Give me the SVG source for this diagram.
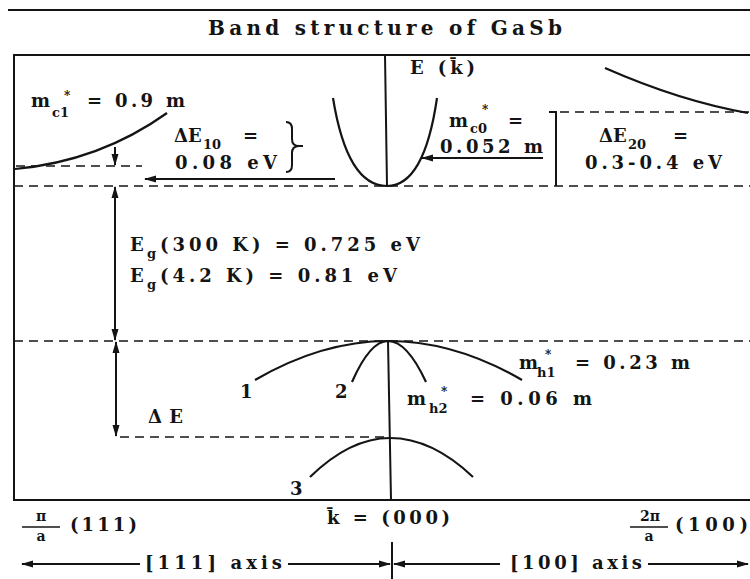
<svg xmlns="http://www.w3.org/2000/svg" width="750" height="579" viewBox="0 0 750 579">
<style>
.t{font-family:"DejaVu Serif","Liberation Serif",serif;font-weight:bold;font-size:18px;fill:#141414}
.title{font-size:20px}
.fr{font-size:14px}
.s{font-size:13px}
.ast{font-size:12px}
.ln{stroke:#141414;stroke-width:2;fill:none}
.cv{stroke:#141414;stroke-width:2.2;fill:none}
.ds{stroke:#141414;stroke-width:1.6;fill:none;stroke-dasharray:9 6}
.ar{stroke:#141414;stroke-width:2;fill:none}
</style>
<defs>
<marker id="ah" markerUnits="userSpaceOnUse" markerWidth="12" markerHeight="8" refX="11" refY="4" orient="auto-start-reverse"><path d="M0,0.5 L12,4 L0,7.5 z" fill="#141414"/></marker>
</defs>
<rect width="750" height="579" fill="#fff"/>

<g id="title">
<line x1="8" y1="10" x2="750" y2="10" class="ln" stroke-width="1.5"/>
<text class="t title" x="208" y="35" textLength="354" lengthAdjust="spacing">Band structure of GaSb</text>
</g>

<g id="frame">
<path d="M750,55 H14 V500 H750" class="ln"/>
<line x1="385" y1="55" x2="387" y2="186" class="ln"/>
<line x1="388" y1="341" x2="391" y2="500" class="ln"/>
</g>

<g id="levels">
<line x1="14" y1="186" x2="750" y2="186" class="ds"/>
<line x1="14" y1="341" x2="750" y2="341" class="ds"/>
<line x1="16" y1="166" x2="142" y2="166" class="ds"/>
<line x1="560" y1="112" x2="750" y2="112" class="ds"/>
<line x1="120" y1="437" x2="388" y2="437" class="ds"/>
<path d="M549,112 H556 V186" class="ln"/>
<path d="M286,122 Q292,122 292,129 V139 Q292,146 299,146 Q292,146 292,153 V165 Q292,172 286,172 M299,146 H303" class="ln"/>
</g>

<g id="bands">
<path id="band-L" d="M15,169 Q100,161 167,113" class="cv"/>
<path id="band-X" d="M605,68 Q680,101 748,113" class="cv"/>
<path id="band-gamma" d="M333,98 C343,160 362,186 387,186 C410,186 428,160 437,98" class="cv"/>
<path id="band-1" d="M255,380 Q322,341 388,341 Q455,341 522,380" class="cv"/>
<path id="band-2" d="M352,382 Q370,341 388,341 Q407,341 426,382" class="cv"/>
<path id="band-3" d="M310,477 Q350,438 390,438 Q432,438 473,477" class="cv"/>
</g>

<g id="connectors">
<line x1="115" y1="147" x2="115" y2="165" class="ar" marker-end="url(#ah)"/>
<line x1="335" y1="179" x2="145" y2="179" class="ar" marker-end="url(#ah)"/>
<line x1="543" y1="158" x2="422" y2="158" class="ar" marker-end="url(#ah)"/>
<line x1="115" y1="187" x2="115" y2="340" class="ar" marker-start="url(#ah)" marker-end="url(#ah)"/>
<line x1="116" y1="342" x2="116" y2="436" class="ar" marker-start="url(#ah)" marker-end="url(#ah)"/>
<line x1="22" y1="564" x2="140" y2="564" class="ar" marker-start="url(#ah)"/>
<line x1="288" y1="564" x2="390" y2="564" class="ar" marker-end="url(#ah)"/>
<line x1="394" y1="564" x2="500" y2="564" class="ar" marker-start="url(#ah)"/>
<line x1="648" y1="564" x2="748" y2="564" class="ar" marker-end="url(#ah)"/>
<line x1="392" y1="542" x2="392" y2="579" class="ar"/>
</g>

<g id="labels">
<text class="t"><tspan x="31" y="107">m</tspan><tspan class="ast" x="64" y="100">*</tspan><tspan class="s" x="52" y="117">c1</tspan><tspan x="87" y="107" textLength="98" lengthAdjust="spacing">= 0.9 m</tspan></text>

<text class="t"><tspan x="174" y="142">ΔE</tspan><tspan class="s" x="203" y="149">10</tspan><tspan x="243" y="142">=</tspan></text>
<text class="t" x="175" y="169" textLength="102" lengthAdjust="spacing">0.08 eV</text>

<text class="t" x="410" y="74" textLength="65" lengthAdjust="spacing">E (k̄)</text>

<text class="t"><tspan x="449" y="127">m</tspan><tspan class="ast" x="482" y="114">*</tspan><tspan class="s" x="470" y="133">c0</tspan><tspan x="508" y="127">=</tspan></text>
<text class="t" x="440" y="153" textLength="103" lengthAdjust="spacing">0.052 m</text>

<text class="t"><tspan x="599" y="142">ΔE</tspan><tspan class="s" x="628" y="149">20</tspan><tspan x="673" y="142">=</tspan></text>
<text class="t" x="585" y="169" textLength="137" lengthAdjust="spacing">0.3-0.4 eV</text>

<text class="t"><tspan x="130" y="251">E</tspan><tspan class="s" x="147" y="258">g</tspan><tspan x="160" y="251" textLength="260" lengthAdjust="spacing">(300 K) = 0.725 eV</tspan></text>
<text class="t"><tspan x="130" y="282">E</tspan><tspan class="s" x="147" y="289">g</tspan><tspan x="160" y="282" textLength="237" lengthAdjust="spacing">(4.2 K) = 0.81 eV</tspan></text>

<text class="t" x="148" y="423" textLength="35" lengthAdjust="spacing">ΔE</text>

<text class="t" x="240" y="398">1</text>
<text class="t" x="335" y="398">2</text>
<text class="t" x="290" y="495">3</text>

<text class="t"><tspan x="519" y="369">m</tspan><tspan class="ast" x="545" y="359">*</tspan><tspan class="s" x="537" y="377">h1</tspan><tspan x="575" y="369" textLength="115" lengthAdjust="spacing">= 0.23 m</tspan></text>
<text class="t"><tspan x="407" y="405">m</tspan><tspan class="ast" x="441" y="396">*</tspan><tspan class="s" x="429" y="413">h2</tspan><tspan x="470" y="405" textLength="122" lengthAdjust="spacing">= 0.06 m</tspan></text>
</g>

<g id="axis-labels">
<text class="t fr" text-anchor="middle"><tspan x="41" y="521">π</tspan><tspan x="41" y="541">a</tspan></text>
<line x1="22" y1="527" x2="60" y2="527" stroke="#141414" stroke-width="1.5"/>
<text class="t" x="70" y="531" textLength="67" lengthAdjust="spacing">(111)</text>

<text class="t" x="327" y="524" textLength="123" lengthAdjust="spacing">k̄ = (000)</text>

<text class="t fr" text-anchor="middle"><tspan x="650" y="521">2π</tspan><tspan x="649" y="541">a</tspan></text>
<line x1="630" y1="527" x2="668" y2="527" stroke="#141414" stroke-width="1.5"/>
<text class="t" x="675" y="531" textLength="73" lengthAdjust="spacing">(100)</text>

<text class="t" x="145" y="569" textLength="137" lengthAdjust="spacing">[111] axis</text>
<text class="t" x="510" y="569" textLength="132" lengthAdjust="spacing">[100] axis</text>
</g>
</svg>
